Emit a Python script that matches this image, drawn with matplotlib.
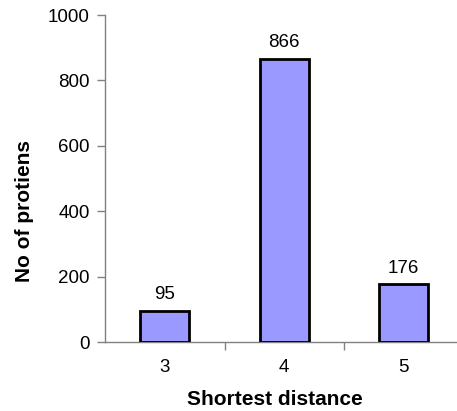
import numpy as np
import matplotlib.pyplot as plt

plt.rcParams['font.family'] = ['Liberation Sans', 'DejaVu Sans']

# Number of proteins by shortest distance
distances = ['3', '4', '5']
counts = [95, 866, 176]

W, H = 457, 411
fig = plt.figure(figsize=(W / 100, H / 100), dpi=100)
# axes box in pixels: left 105, right 463.5 (runs past the edge), bottom 342, top 15
ax = fig.add_axes([105 / W, (H - 342) / H, 358.5 / W, 327 / H])

x = np.arange(len(distances))
bars = ax.bar(x, counts, width=0.41, color='#9999FF', edgecolor='black',
              linewidth=2, zorder=3)

for xi, c in zip(x, counts):
    ax.text(xi, c + 24, str(c), ha='center', va='bottom', fontsize=13.5)

ax.set_xlim(-0.5, 2.5)
ax.set_ylim(0, 1000)
ax.set_yticks(np.arange(0, 1001, 200))

ax.set_xticks(x)
ax.set_xticklabels(distances)
ax.set_xticks([0.5, 1.5], minor=True)
ax.tick_params(axis='x', which='major', length=0, pad=12, labelsize=13.5)
ax.tick_params(axis='x', which='minor', length=6, width=1, color='#808080',
               direction='out')
ax.tick_params(axis='y', length=6, width=1, color='#808080', pad=5,
               labelsize=13.5)

for s in ['top', 'right']:
    ax.spines[s].set_visible(False)
for s in ['left', 'bottom']:
    ax.spines[s].set_color('#808080')
    ax.spines[s].set_linewidth(1)

ax.set_xlabel('Shortest distance', fontsize=15, fontweight='bold', labelpad=10)
ax.set_ylabel('No of protiens', fontsize=15, fontweight='bold', labelpad=10)
# labels sit centred on the visible part of the plot
ax.xaxis.label.set_x(0.474)
ax.yaxis.label.set_y(0.40)

fig.savefig('out.png', dpi=100)
